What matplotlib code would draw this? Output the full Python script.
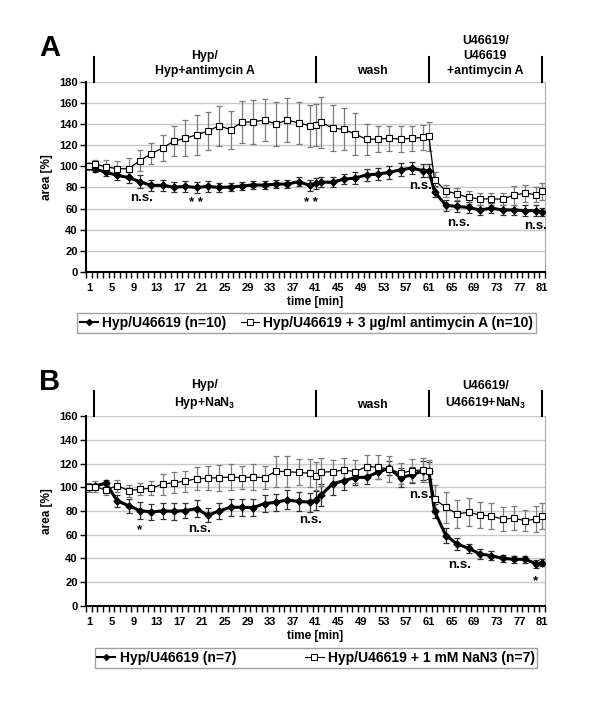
import matplotlib
matplotlib.use('Agg')
import matplotlib.pyplot as plt
import matplotlib.transforms as mtransforms
from matplotlib.lines import Line2D

plt.rcParams['font.family'] = ['Liberation Sans', 'DejaVu Sans']
plt.rcParams['font.weight'] = 'bold'
plt.rcParams['mathtext.fontset'] = 'custom'
plt.rcParams['mathtext.rm'] = 'Liberation Sans:bold'
plt.rcParams['mathtext.bf'] = 'Liberation Sans:bold'
plt.rcParams['mathtext.it'] = 'Liberation Sans:bold'

# time points [min]
time = [1, 2, 4, 6, 8, 10, 12, 14, 16, 18, 20, 22, 24, 26, 28, 30, 32, 34, 36, 38, 40, 41,
        42, 44, 46, 48, 50, 52, 54, 56, 58, 60, 61,
        62, 64, 66, 68, 70, 72, 74, 76, 78, 80, 81]

# panel A
a_ctrl = [100, 97.5, 94.6, 91.5, 89.5, 85.5, 82, 82, 80.3, 81, 80, 81, 80, 80.5, 81.3, 82.5,
          82.2, 83.2, 83.2, 85.5, 82, 84,
          85, 85, 87.9, 88.9, 92, 92.7, 94.3, 96.8, 98.4, 96, 96,
          76, 63, 62, 61, 58.7, 60.3, 58.7, 58.7, 58, 58, 56.5]
a_ctrl_err = [2, 3, 4, 4, 5, 6, 5, 5, 5, 5, 5, 5, 4, 4, 4, 4, 4, 4, 4, 4, 5, 5,
              5, 5, 5, 6, 6, 6, 6, 6, 6, 6, 6,
              5, 5, 5, 5, 5, 5, 5, 5, 5, 5, 4]
a_anti = [100, 102.5, 99.7, 97.8, 97.8, 105.5, 112, 117.5, 124, 126.7, 130, 133.5, 138.7,
          134.9, 141.9, 142.5, 144, 140.3, 144, 141.3, 138.7, 139.4,
          141.9, 136.5, 135.2, 130.8, 125.7, 126, 126.7, 126, 126.7, 127.6, 128.6,
          87.3, 76.8, 73.7, 70.5, 69.2, 69.2, 68.9, 72.7, 74.6, 73, 76.2]
a_anti_err = [3, 4, 6, 7, 10, 10, 10, 12, 14, 17, 19, 18, 19, 18, 20, 21, 20, 21, 21, 20, 20, 20,
              24, 22, 20, 20, 15, 12, 12, 12, 12, 12, 14,
              7, 6, 6, 6, 6, 6, 6, 9, 8, 7, 8]

# panel B
b_ctrl = [100, 101, 103.5, 88.5, 84.5, 80.3, 79.2, 80, 79.7, 80.3, 82, 76.3, 80, 83.1, 83.1,
          82.8, 86.2, 87.3, 89.3, 88, 87.5, 89,
          93.5, 102.8, 105.6, 108.2, 108.5, 112.7, 116, 108.2, 110.4, 114, 114,
          80, 59.2, 52.1, 48.5, 43.7, 42.3, 40, 39.2, 39.2, 35.2, 36.3]
b_ctrl_err = [2, 2, 3, 5, 6, 7, 7, 7, 7, 6, 7, 6, 7, 7, 7, 7, 7, 7, 8, 8, 8, 8,
              9, 9, 8, 6, 6, 6, 6, 8, 7, 8, 7,
              6, 6, 5, 4, 4, 4, 3, 3, 3, 3, 3]
b_nan3 = [100, 100.6, 97.7, 101.4, 97.2, 98.3, 99.2, 102.5, 103.9, 105.1, 107.3, 107.6, 108.2,
          108.5, 108.2, 108.5, 108.2, 113.5, 113.2, 112.5, 111.8, 109.6,
          112.7, 113.2, 114.6, 113.2, 117.5, 116.9, 115.5, 111.8, 114.1, 114.6, 113.8,
          89.9, 83.1, 77.5, 78.9, 76.6, 75.8, 73.2, 73.8, 71.8, 73.2, 75.8]
b_nan3_err = [4, 5, 4, 5, 5, 5, 6, 9, 9, 9, 10, 10, 11, 11, 10, 11, 10, 13, 13, 11, 12, 12,
              12, 10, 10, 10, 10, 10, 11, 9, 10, 10, 9,
              12, 13, 12, 12, 11, 11, 10, 10, 9, 11, 11]

xtick_labels = list(range(1, 82, 4))
bar_pos = [1.9, 41, 61, 80.9]

panels = [
    dict(letter='A', ctrl=a_ctrl, ctrl_err=a_ctrl_err, trt=a_anti, trt_err=a_anti_err,
         ymax=180,
         headers=['Hyp/\nHyp+antimycin A', 'wash', 'U46619/\nU46619\n+antimycin A'],
         notes=[(10.3, 70, 'n.s.'), (19.9, 65, '* *'), (40.2, 65, '* *'), (59.5, 81, 'n.s.'),
                (66.2, 46, 'n.s.'), (79.8, 43, 'n.s.')],
         labels=['Hyp/U46619 (n=10)', 'Hyp/U46619 + 3 µg/ml antimycin A (n=10)'],
         leg_x=306.5 / 600, leg_y=1 - 313 / 709, colsp=1.0),
    dict(letter='B', ctrl=b_ctrl, ctrl_err=b_ctrl_err, trt=b_nan3, trt_err=b_nan3_err,
         ymax=160,
         headers=['Hyp/\nHyp+NaN$_3$', 'wash', 'U46619/\nU46619+NaN$_3$'],
         notes=[(10, 64, '*'), (20.5, 64.5, 'n.s.'), (40.2, 72, 'n.s.'), (59.5, 93.5, 'n.s.'),
                (66.5, 34.5, 'n.s.'), (79.9, 21, '*')],
         labels=['Hyp/U46619 (n=7)', 'Hyp/U46619 + 1 mM NaN3 (n=7)'],
         leg_x=316 / 600, leg_y=1 - 648 / 709, colsp=5.0),
]

fig = plt.figure(figsize=(6, 7.09), dpi=100)
bottoms = [1 - 271.7 / 709, 1 - 605.7 / 709]

for P, bot in zip(panels, bottoms):
    ax = fig.add_axes([86 / 600, bot, 459 / 600, 189.5 / 709])
    ax.set_xlim(0.5, 81.5)
    ax.set_ylim(0, P['ymax'])
    ax.set_yticks(range(0, P['ymax'] + 1, 20))
    ax.yaxis.grid(True, color='#c8c8c8', lw=1)
    ax.set_axisbelow(True)
    ax.spines['top'].set_visible(False)
    ax.spines['right'].set_color('#a8a8a8')
    ax.spines['left'].set_linewidth(1.5)
    ax.spines['bottom'].set_linewidth(1.5)
    ax.set_xticks([i + 0.5 for i in range(0, 82)])
    ax.set_xticklabels([])
    ax.set_xticks(xtick_labels, minor=True)
    ax.set_xticklabels([str(v) for v in xtick_labels], minor=True)
    ax.tick_params(axis='x', which='major', length=4, width=1, direction='out')
    ax.tick_params(axis='x', which='minor', length=0, pad=8, labelsize=8)
    ax.tick_params(axis='y', length=4, width=1, pad=2, labelsize=8)
    for lab in ax.get_xticklabels(minor=True) + ax.get_yticklabels():
        lab.set_fontweight('bold')
    ax.set_xlabel('time [min]', fontsize=8.5, fontweight='bold', labelpad=2.5)
    ax.set_ylabel('area [%]', fontsize=8.5, fontweight='bold', labelpad=4)

    ax.errorbar(time, P['ctrl'], yerr=P['ctrl_err'], fmt='none', ecolor='#303030',
                elinewidth=0.9, capsize=2.2, capthick=0.9, zorder=2)
    ax.errorbar(time, P['trt'], yerr=P['trt_err'], fmt='none', ecolor='#7a7a7a',
                elinewidth=0.9, capsize=2.2, capthick=0.9, zorder=2)
    ax.plot(time, P['ctrl'], color='black', lw=2.2, marker='D', ms=3.5, zorder=3)
    ax.plot(time, P['trt'], color='black', lw=0.9, marker='s', ms=5, mfc='white',
            mec='black', mew=0.8, zorder=4)

    trans = mtransforms.blended_transform_factory(ax.transData, ax.transAxes)
    for xb in bar_pos:
        ax.plot([xb, xb], [1.0, 1.0 + 25 / 189.5], color='black', lw=1.5,
                transform=trans, clip_on=False)
    for i, h in enumerate(P['headers']):
        xc = (bar_pos[i] + bar_pos[i + 1]) / 2
        ax.text(xc, 1.03, h, transform=trans, ha='center', va='bottom',
                multialignment='center', fontsize=8.8, fontweight='bold', linespacing=1.3)
    for xn, yn, t in P['notes']:
        ax.text(xn, yn, t, ha='center', va='center', fontsize=9.5, fontweight='bold')

    fig.text(50 / 600, bot + (189.5 + 34) / 709, P['letter'], fontsize=21,
             fontweight='bold', ha='center', va='center')

    handles = [Line2D([], [], color='black', lw=1.5, marker='D', ms=3),
               Line2D([], [], color='black', lw=0.8, marker='s', ms=4, mfc='white',
                      mec='black', mew=0.7)]
    fig.legend(handles, P['labels'], loc='upper center', bbox_to_anchor=(P['leg_x'], P['leg_y']),
               ncol=2, frameon=True, fancybox=False, edgecolor='#a0a0a0', framealpha=1,
               prop=dict(family='Liberation Sans', weight='bold', size=10),
               handlelength=1.3, handletextpad=0.3, columnspacing=P['colsp'],
               borderpad=0.2, borderaxespad=0)

fig.savefig('out.png', dpi=100)
